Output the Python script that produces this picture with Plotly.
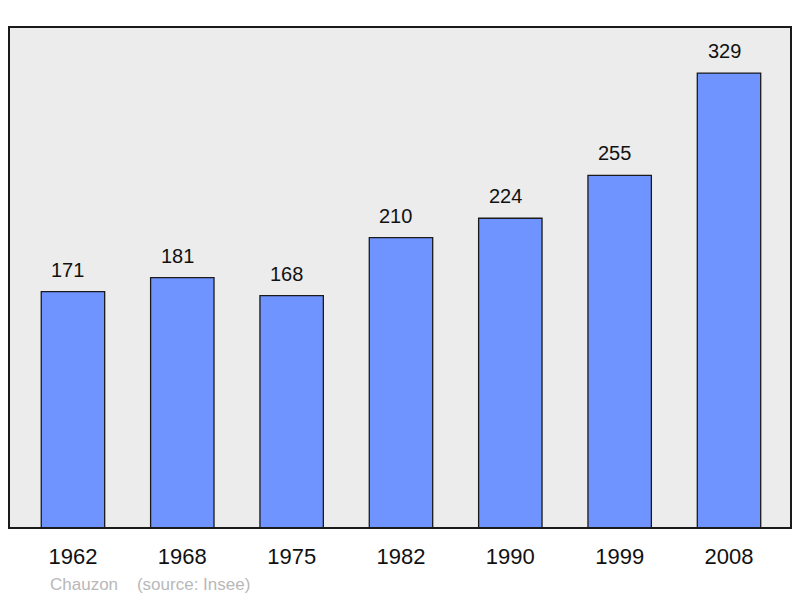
import plotly.graph_objects as go

years = ["1962", "1968", "1975", "1982", "1990", "1999", "2008"]
population = [171, 181, 168, 210, 224, 255, 329]
commune = "Chauzon"
source = "(source: Insee)"

fig = go.Figure()

fig.add_trace(go.Bar(
    x=years,
    y=population,
    width=0.58,
    marker_color="#7094ff",
    marker_line_color="#1a1a1a",
    marker_line_width=1.3,
    hoverinfo="x+y",
))

# value labels above each bar (category axis -> use the index position)
for i, val in enumerate(population):
    fig.add_annotation(
        x=i, y=val, text=str(val), showarrow=False,
        yanchor="bottom", yshift=9, xshift=-5,
        font=dict(family="Liberation Sans, Arial", size=20, color="#111111"),
    )

# frame around the plot area
fig.add_shape(
    type="rect", xref="x domain", yref="y domain",
    x0=0, x1=1, y0=0, y1=1,
    line=dict(color="#1a1a1a", width=2),
    layer="above",
)

fig.add_annotation(
    xref="paper", yref="paper", x=0.05, y=-0.112,
    xanchor="left", yanchor="middle", showarrow=False,
    text=commune + "\u00a0\u00a0\u00a0\u00a0" + source,
    font=dict(family="Liberation Sans, Arial", size=17, color="#b8b8b8"),
)

fig.update_xaxes(
    type="category",
    range=[-0.585, 6.567],
    showgrid=False, zeroline=False, showline=False,
    ticks="", ticklabelstandoff=13,
    tickfont=dict(family="Liberation Sans, Arial", size=22, color="#111111"),
)
fig.update_yaxes(
    range=[0, 362.3],
    showgrid=False, zeroline=False, showline=False,
    showticklabels=False, ticks="",
)

fig.update_layout(
    width=800, height=598,
    margin=dict(l=9, r=9, t=27, b=70),
    paper_bgcolor="white",
    plot_bgcolor="#ececec",
    showlegend=False,
)

fig.write_html("out.html", config={"displayModeBar": False},
               post_script="document.body.style.margin='0';")
